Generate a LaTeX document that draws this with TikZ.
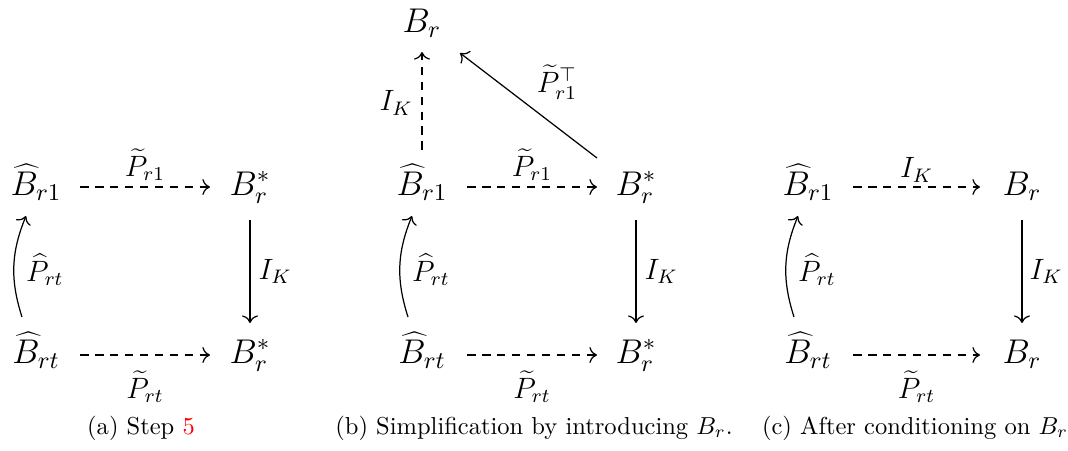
\RequirePackage{fix-cm}
\documentclass[tikz,border=0pt]{standalone}
\usepackage{xcolor}
\usetikzlibrary{cd}
\begin{document}
\begin{tikzpicture}[x=0.408pt,y=-0.408pt,
  obj/.style={font=\fontsize{14}{17}\selectfont, inner sep=0pt, anchor=base},
  lab/.style={font=\fontsize{12}{14}\selectfont, inner sep=0pt},
  ar/.style={-{cm to}, line width=0.5pt},
  dar/.style={ar, dash pattern=on 3.5pt off 2.6pt},
  captxt/.style={inner sep=0pt, anchor=base}]
\useasboundingbox (0,0) rectangle (1068,450);
% ---------- panel (a)
\node[obj] (a1) at (36,195) {$\widehat{B}_{r1}$};
\node[obj] (a2) at (250,195) {$B_r^*$};
\node[obj] (a3) at (36,363) {$\widehat{B}_{rt}$};
\node[obj] (a4) at (250,363) {$B_r^*$};
\draw[dar] ([shift={(44,-8)}]a1.base) -- node[lab, midway, shift={(0,-22)}] {$\widetilde{P}_{r1}$} ([shift={(-40,-8)}]a2.base);
\draw[ar] ([shift={(0,25)}]a2.base) -- node[lab, midway, shift={(25,0)}] {$I_K$} ([shift={(0,-40)}]a4.base);
\draw[dar] ([shift={(44,-8)}]a3.base) -- node[lab, midway, shift={(0,32)}] {$\widetilde{P}_{rt}$} ([shift={(-40,-8)}]a4.base);
\draw[ar] ([shift={(-14,-46)}]a3.base) to[bend left=20] node[lab, midway, shift={(31,4)}] {$\widehat{P}_{rt}$} ([shift={(-10,21)}]a1.base);
\node[captxt] (capa) at (141,434) {(a) Step \textcolor{red}{5}};
% ---------- panel (b)
\node[obj] (b0) at (422,32) {$B_r$};
\node[obj] (b1) at (422,195) {$\widehat{B}_{r1}$};
\node[obj] (b2) at (636,195) {$B_r^*$};
\node[obj] (b3) at (422,363) {$\widehat{B}_{rt}$};
\node[obj] (b4) at (636,363) {$B_r^*$};
\draw[dar] ([shift={(45,-8)}]b1.base) -- node[lab, midway, shift={(0,-22)}] {$\widetilde{P}_{r1}$} ([shift={(-39,-8)}]b2.base);
\draw[ar] ([shift={(0,25)}]b2.base) -- node[lab, midway, shift={(25,0)}] {$I_K$} ([shift={(0,-40)}]b4.base);
\draw[dar] ([shift={(45,-8)}]b3.base) -- node[lab, midway, shift={(0,32)}] {$\widetilde{P}_{rt}$} ([shift={(-39,-8)}]b4.base);
\draw[ar] ([shift={(-14,-46)}]b3.base) to[bend left=20] node[lab, midway, shift={(31,4)}] {$\widehat{P}_{rt}$} ([shift={(-10,21)}]b1.base);
\draw[dar] ([shift={(0,-45)}]b1.base) -- node[lab, midway, shift={(-26,2)}] {$I_K$} ([shift={(0,20)}]b0.base);
\draw[ar] ([shift={(-39,-37)}]b2.base) -- node[lab, midway, shift={(28.5,-23)}] {$\widetilde{P}_{r1}^{\top}$} ([shift={(38,21)}]b0.base);
\node[captxt] (capb) at (534,434) {(b) Simplification by introducing $B_r$.};
% ---------- panel (c)
\node[obj] (c1) at (808,195) {$\widehat{B}_{r1}$};
\node[obj] (c2) at (1022,195) {$B_r$};
\node[obj] (c3) at (808,363) {$\widehat{B}_{rt}$};
\node[obj] (c4) at (1022,363) {$B_r$};
\draw[dar] ([shift={(45,-8)}]c1.base) -- node[lab, midway, shift={(0,-17)}] {$I_K$} ([shift={(-42,-8)}]c2.base);
\draw[ar] ([shift={(0,25)}]c2.base) -- node[lab, midway, shift={(24,0)}] {$I_K$} ([shift={(0,-40)}]c4.base);
\draw[dar] ([shift={(45,-8)}]c3.base) -- node[lab, midway, shift={(0,32)}] {$\widetilde{P}_{rt}$} ([shift={(-42,-8)}]c4.base);
\draw[ar] ([shift={(-14,-46)}]c3.base) to[bend left=20] node[lab, midway, shift={(31,4)}] {$\widehat{P}_{rt}$} ([shift={(-10,21)}]c1.base);
\node[captxt] (capc) at (915,434) {(c) After conditioning on $B_r$};
\end{tikzpicture}
\end{document}
